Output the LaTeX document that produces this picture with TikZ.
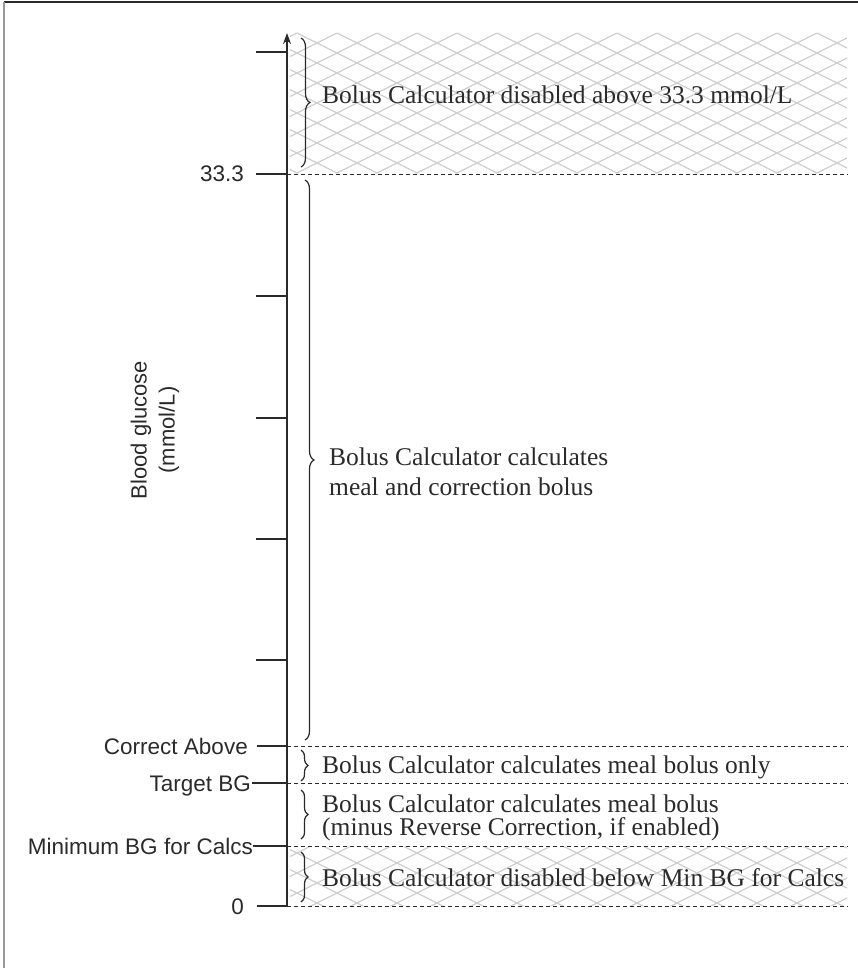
\documentclass[tikz,border=0pt]{standalone}
\usepackage{fontspec}
\setmainfont{Liberation Serif}
\newfontfamily\labelsans{Liberation Sans}
\usetikzlibrary{decorations.pathreplacing,arrows.meta}
\definecolor{ink}{HTML}{2A2A2A}
\definecolor{hatchgray}{HTML}{CFCFCF}
\tikzset{
  axisline/.style={draw=ink,line width=1.5pt},
  tickline/.style={draw=ink,line width=1.3pt},
  dashline/.style={draw=ink,line width=0.9pt,dash pattern=on 4pt off 3pt},
  bracepath/.style={draw=ink,line width=1.2pt,decorate,decoration={brace,amplitude=#1}},
  bracepath/.default=8pt,
  leftlabel/.style={font=\labelsans\fontsize{22.5}{25}\selectfont,text=ink,inner sep=0pt,anchor=base east},
  zonetext/.style={font=\fontsize{25.5}{23}\selectfont,text=ink,inner sep=0pt,align=left},
  hatchline/.style={draw=hatchgray,line width=1.3pt},
}
\begin{document}
\begin{tikzpicture}[x=1pt,y=-1pt]
\useasboundingbox (0,0) rectangle (858,968);
% frame
\draw[draw=ink,line width=1.5pt] (4,2) -- (858,2);
\draw[draw=gray!80,line width=2pt] (4,2) -- (4,968);
% hatched zones
\begin{scope}
  \clip (290,33) rectangle (847,173.5) (290,846.5) rectangle (847,906);
  \foreach \k in {-25,...,70} {
    \draw[hatchline] (0,4.5+20*\k) -- (858,433.5+20*\k);
    \draw[hatchline] (0,1.5+20*\k) -- (858,-427.5+20*\k);
  }
\end{scope}
% axis coordinates
\coordinate (ax0) at (287,906);
\coordinate (axtop) at (287,33);
\coordinate (t52) at (287,52);
\coordinate (t174) at (287,174);
\coordinate (t296) at (287,296);
\coordinate (t418) at (287,418);
\coordinate (t539) at (287,539);
\coordinate (t660) at (287,660);
\coordinate (t746) at (287,746);
\coordinate (t783) at (287,783);
\coordinate (t846) at (287,846);
\coordinate (t906) at (287,906);
% dashed boundaries
\coordinate (d174) at (848,174);
\coordinate (d746) at (848,746);
\coordinate (d783) at (848,783);
\coordinate (d846) at (848,846);
\coordinate (d906) at (848,906);
\foreach \y in {174,746,783,846,906} \draw[dashline] (t\y) -- (d\y);
% tick starts
\coordinate (s52) at (256,52);
\coordinate (s174) at (256,174);
\coordinate (s296) at (256,296);
\coordinate (s418) at (256,418);
\coordinate (s539) at (256,539);
\coordinate (s660) at (256,660);
\coordinate (s746) at (257,746);
\coordinate (s783) at (252,783);
\coordinate (s846) at (253,846);
\coordinate (s906) at (257,906);
\foreach \y in {52,174,296,418,539,660,746,783,846,906} \draw[tickline] (s\y) -- (t\y);
% axis
\draw[axisline,-{Stealth[length=11pt,width=8pt]}] (ax0) -- (axtop);
% left labels
\node[leftlabel] (l333) at (244,182) {33.3};
\node[leftlabel] (lca) at (248,754) {Correct Above};
\node[leftlabel] (ltb) at (251,791) {Target BG};
\node[leftlabel] (lmin) at (253,854) {Minimum BG for Calcs};
\node[leftlabel] (lzero) at (244,914) {0};
% axis title
\node[font=\labelsans\fontsize{22}{28}\selectfont,text=ink,align=center,rotate=90,inner sep=0pt] (ytitle) at (155,430) {Blood glucose\\(mmol/L)};
% braces
\draw[bracepath=9pt] (301,38) -- (301,167);
\draw[bracepath=9pt] (305,180) -- (305,740);
\draw[bracepath=7pt] (301,750) -- (301,781);
\draw[bracepath=7pt] (301,790) -- (301,839);
\draw[bracepath=7pt] (301,852) -- (301,902);
% zone texts
\node[zonetext,anchor=base west] (z1) at (322,104) {Bolus Calculator disabled above 33.3 mmol/L};
\node[zonetext,anchor=west,font=\fontsize{25.5}{30}\selectfont] (z2) at (329,472) {Bolus Calculator calculates\\meal and correction bolus};
\node[zonetext,anchor=base west] (z3) at (322,773) {Bolus Calculator calculates meal bolus only};
\node[zonetext,anchor=west] (z4) at (322,818) {Bolus Calculator calculates meal bolus\\(minus Reverse Correction, if enabled)};
\node[zonetext,anchor=base west] (z5) at (322,886) {Bolus Calculator disabled below Min BG for Calcs};
\end{tikzpicture}
\end{document}
